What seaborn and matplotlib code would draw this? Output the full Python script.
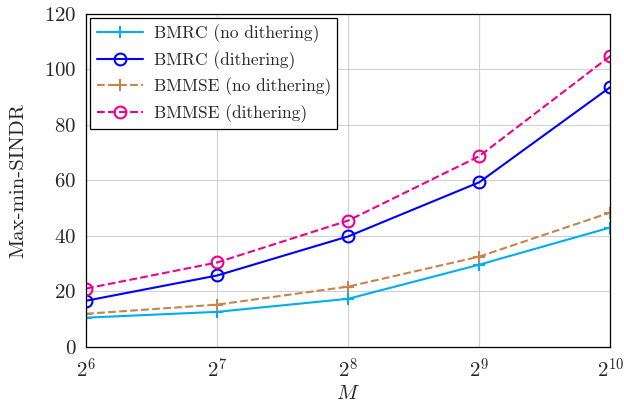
import matplotlib
matplotlib.use("Agg")
import matplotlib.pyplot as plt
import seaborn as sns
import pandas as pd

M = [64, 128, 256, 512, 1024]
xtick_labels = [r"$2^{6}$", r"$2^{7}$", r"$2^{8}$", r"$2^{9}$", r"$2^{10}$"]
bmrc_nodith = [10.5, 12.6, 17.3, 29.6, 43.0]
bmrc_dith = [16.6, 25.7, 39.8, 59.3, 93.6]
bmmse_nodith = [11.9, 15.2, 21.7, 32.5, 48.4]
bmmse_dith = [21.0, 30.4, 45.5, 68.7, 104.8]

sns.set_theme(style="whitegrid")
plt.rcParams["font.family"] = ["cmr10", "DejaVu Serif"]
plt.rcParams["mathtext.fontset"] = "cm"
plt.rcParams["axes.formatter.use_mathtext"] = True

fig = plt.figure(figsize=(6.24, 4.08), dpi=100)
ax = fig.add_axes([0.138, 0.150, 0.840, 0.816])

series = [
    ("BMRC (no dithering)", bmrc_nodith, "#00AEEF", "+", "-"),
    ("BMRC (dithering)", bmrc_dith, "#0000FF", "o", "-"),
    ("BMMSE (no dithering)", bmmse_nodith, "#C8844A", "+", "--"),
    ("BMMSE (dithering)", bmmse_dith, "#EC008C", "o", "--"),
]
for name, vals, col, mk, ls in series:
    df = pd.DataFrame({"M": M, "v": vals})
    sns.lineplot(data=df, x="M", y="v", ax=ax, color=col, marker=mk,
                 linestyle=ls, linewidth=1.5, markersize=8.5,
                 markerfacecolor="none" if mk == "o" else col,
                 markeredgecolor=col, markeredgewidth=1.5, label=name)

ax.set_xscale("log", base=2)
ax.set_xlim(64, 1024)
ax.set_ylim(0, 120)
ax.set_xticks(M)
ax.set_xticklabels(xtick_labels)
ax.minorticks_off()
ax.set_yticks([0, 20, 40, 60, 80, 100, 120])
ax.tick_params(axis="both", labelsize=15, direction="in", length=4, color="#999999")
ax.tick_params(axis="x", pad=8)
ax.tick_params(axis="y", pad=7)
ax.grid(True, color="#d0d0d0", linewidth=0.8)
for s in ax.spines.values():
    s.set_color("black")
    s.set_linewidth(0.9)
ax.set_xlabel(r"$M$", fontsize=15, labelpad=2)
ax.set_ylabel("Max-min-SINDR", fontsize=15, labelpad=12)
ax.set_facecolor("white")

leg = ax.legend(loc="upper left", fontsize=12.5, frameon=True, fancybox=False,
                edgecolor="black", framealpha=1, borderaxespad=0.25,
                handlelength=2.7, labelspacing=0.45, borderpad=0.35,
                handletextpad=0.6)
leg.get_frame().set_linewidth(0.9)

fig.savefig("out.png", dpi=100)
